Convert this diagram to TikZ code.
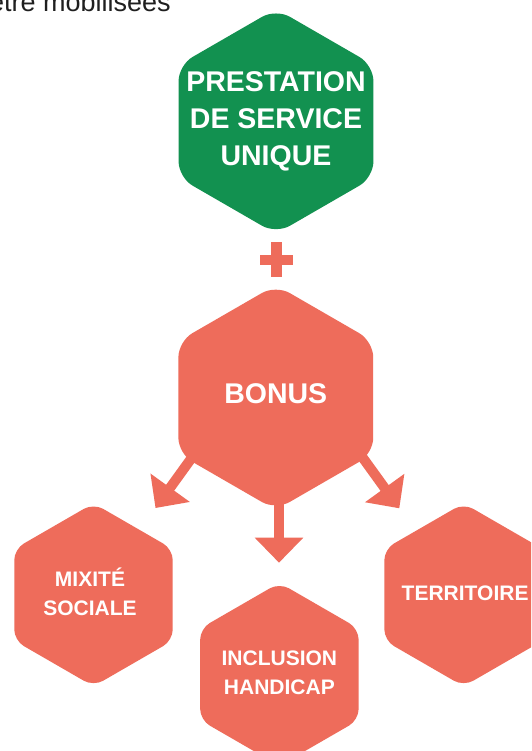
\documentclass[tikz,border=0pt]{standalone}
\usepackage{fontspec}
\setmainfont{Liberation Sans}
\usepackage{tikz}
\usetikzlibrary{shapes.geometric,arrows.meta}

\definecolor{psugreen}{RGB}{18,145,80}
\definecolor{bonusred}{RGB}{238,108,91}

\begin{document}
\begin{tikzpicture}[x=1pt,y=-1pt,
    hexa/.style={regular polygon, regular polygon sides=6, shape border rotate=30,
        inner sep=0pt, outer sep=0pt},
    bighex/.style={hexa, minimum size=225pt, rounded corners=16pt},
    smallhex/.style={hexa, minimum size=183pt, rounded corners=11pt, fill=bonusred},
    bigtxt/.style={text=white, align=center, inner sep=0pt,
        font=\bfseries\fontsize{28.5}{37}\selectfont},
    smalltxt/.style={text=white, align=center, inner sep=0pt,
        font=\bfseries\fontsize{21}{28.8}\selectfont},
    bonusarrow/.style={bonusred, line width=10pt, -{Triangle[length=25pt,width=47pt]}}]
    \def\W{531} % page width
    \def\H{751} % page height
    \def\pl{16.5} % half length of the plus bars
    \def\pt{5.3} % half thickness of the plus bars

    \fill[white] (0,0) rectangle (\W,\H);
    \useasboundingbox (0,0) rectangle (\W,\H);
    \clip (0,0) rectangle (\W,\H);

    % heading, cut at the top
    \node[anchor=base west, inner sep=0pt, text=black!88,
        font=\fontsize{27}{33}\selectfont] (mobtext) at (-11,12) {être mobilisées};

    % arrows (under the hexagons)
    \coordinate (tailL) at (211.1,431);
    \coordinate (tipL) at (155.5,508);
    \coordinate (tailM) at (279,470);
    \coordinate (tipM) at (279,562.7);
    \coordinate (tailR) at (343.7,431.3);
    \coordinate (tipR) at (399.3,508.3);
    \draw[bonusarrow] (tailL) -- (tipL);
    \draw[bonusarrow] (tailM) -- (tipM);
    \draw[bonusarrow] (tailR) -- (tipR);

    % Top hexagon
    \node[bighex, fill=psugreen] (psu) at (276,121.3) {};
    \node[bigtxt] (psutext) at (psu) {PRESTATION\\DE SERVICE\\UNIQUE};

    % plus sign
    \coordinate (plus) at (276.3,259.8);
    \fill[bonusred] ([shift={(-\pl,-\pt)}]plus) rectangle ([shift={(\pl,\pt)}]plus);
    \fill[bonusred] ([shift={(-\pt,-\pl-1)}]plus) rectangle ([shift={(\pt,\pl+1)}]plus);

    % Bonus hexagon
    \node[bighex, fill=bonusred] (bonus) at (275.8,397.5) {};
    \node[bigtxt] (bonustext) at ([yshift=4pt]bonus.center) {BONUS};

    % bottom row
    \node[smallhex] (mix) at (93.5,594.8) {};
    \node[smalltxt] (mixtext) at ([xshift=-3.5pt,yshift=2.8pt]mix.center) {MIXITÉ\\SOCIALE};
    \node[smallhex] (incl) at (279.4,674.3) {};
    \node[smalltxt] (incltext) at ([yshift=1.7pt]incl.center) {INCLUSION\\HANDICAP};
    \node[smallhex] (terr) at (463.6,594.8) {};
    \node[smalltxt] (terrtext) at ([xshift=1.5pt,yshift=2pt]terr.center) {TERRITOIRE};

\end{tikzpicture}
\end{document}
